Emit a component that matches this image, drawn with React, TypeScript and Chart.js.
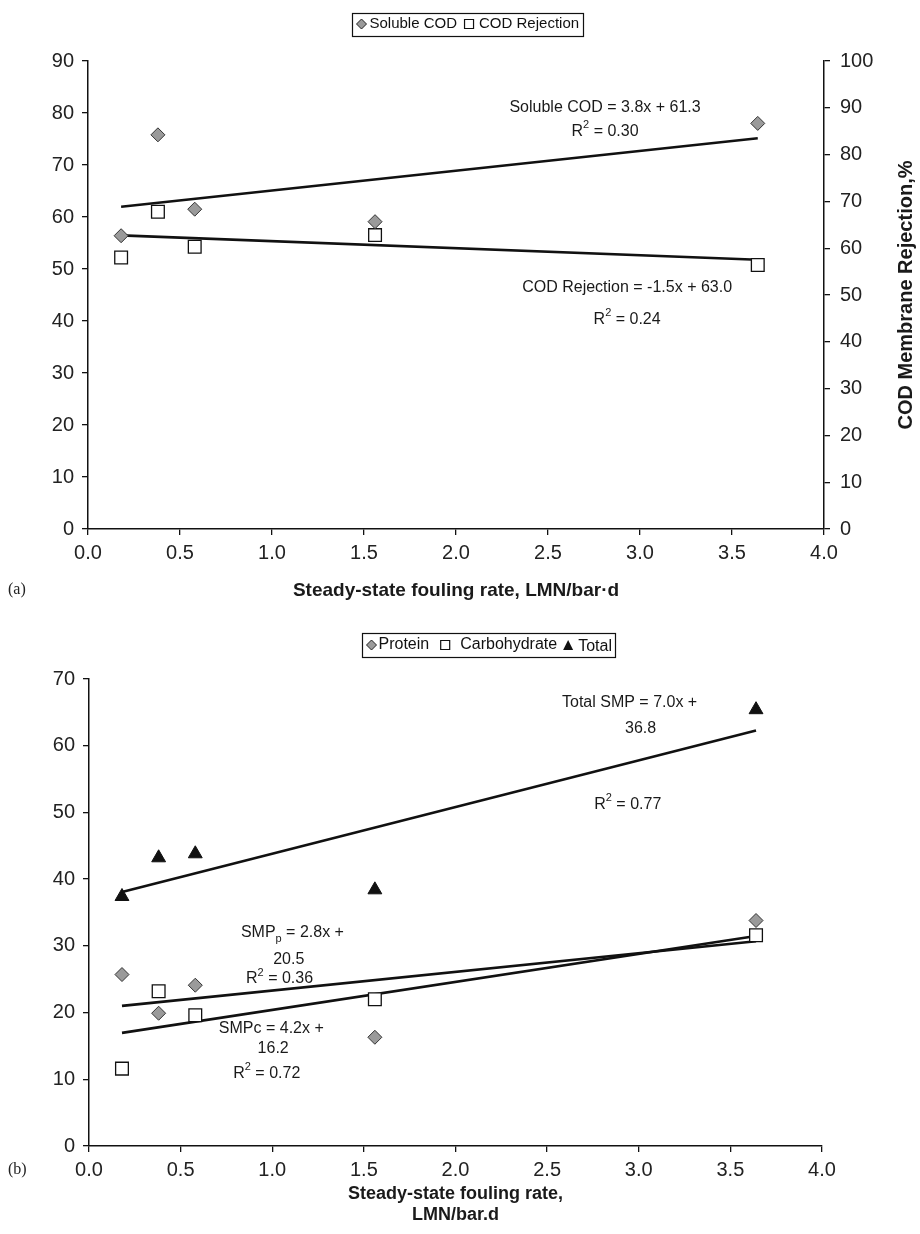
import React, { useEffect, useRef } from "react";
import { Chart, registerables } from "chart.js";

Chart.register(...registerables);

// ---------- data ----------
const foulingRate = [0.18, 0.38, 0.58, 1.56, 3.64];

// panel (a)
const solubleCOD = [56.4, 75.8, 61.5, 59.1, 78.0];
const codRejection = [58.0, 67.8, 60.3, 62.8, 56.4];
const solubleTrend = [3.8, 61.3]; // slope, intercept
const rejectionTrend = [-1.5, 63.0];

// panel (b)
const protein = [25.7, 19.9, 24.1, 16.3, 33.8];
const carbohydrate = [11.6, 23.2, 19.6, 22.0, 31.6];
const totalSMP = [37.4, 43.2, 43.8, 38.4, 65.4];
const proteinTrend = [2.8, 20.5];
const carbTrend = [4.2, 16.2];
const totalTrend = [7.0, 36.8];

const xTickLabels = ["0.0", "0.5", "1.0", "1.5", "2.0", "2.5", "3.0", "3.5", "4.0"];

// ---------- helpers ----------
const SANS = '"Liberation Sans", Arial, Helvetica, sans-serif';
const NARROW = '"Liberation Sans Narrow", "Liberation Sans", Arial, sans-serif';

const pts = (xs: number[], ys: number[]) => xs.map((x, i) => ({ x, y: ys[i] }));
const trendPts = (coef: number[]) => {
  const x0 = Math.min(...foulingRate);
  const x1 = Math.max(...foulingRate);
  return [
    { x: x0, y: coef[0] * x0 + coef[1] },
    { x: x1, y: coef[0] * x1 + coef[1] },
  ];
};

type Part = { t: string; k?: "sub" | "sup" };
type Note = { parts: Part[]; x: number; y: number };

function drawRich(ctx: CanvasRenderingContext2D, parts: Part[], cx: number, cy: number, size: number) {
  const base = `${size}px ${NARROW}`;
  const small = `${Math.round(size * 0.7)}px ${NARROW}`;
  let w = 0;
  for (const p of parts) {
    ctx.font = p.k ? small : base;
    w += ctx.measureText(p.t).width;
  }
  let x = cx - w / 2;
  ctx.textAlign = "left";
  ctx.textBaseline = "middle";
  for (const p of parts) {
    ctx.font = p.k ? small : base;
    const dy = p.k === "sup" ? -size * 0.4 : p.k === "sub" ? size * 0.4 : 0;
    ctx.fillText(p.t, x, cy + dy);
    x += ctx.measureText(p.t).width;
  }
}

const notesPlugin = (notes: Note[], size: number) => ({
  id: "notes",
  afterDatasetsDraw(chart: any) {
    const ctx = chart.ctx as CanvasRenderingContext2D;
    const xs = chart.scales.x;
    const ys = chart.scales.y;
    ctx.save();
    ctx.fillStyle = "#1a1a1a";
    for (const n of notes) {
      drawRich(ctx, n.parts, xs.getPixelForValue(n.x), ys.getPixelForValue(n.y), size);
    }
    ctx.restore();
  },
});

type Marker = "diamond" | "square" | "triangle";
type LegItem = { label: string; marker: Marker; gapAfterMarker: number; gapAfterText: number; dy?: number };

function drawMarker(ctx: CanvasRenderingContext2D, m: Marker, x: number, y: number, s: number) {
  ctx.beginPath();
  if (m === "diamond") {
    ctx.moveTo(x, y - s / 2);
    ctx.lineTo(x + s / 2, y);
    ctx.lineTo(x, y + s / 2);
    ctx.lineTo(x - s / 2, y);
    ctx.closePath();
    ctx.fillStyle = "#9a9a9a";
    ctx.fill();
    ctx.strokeStyle = "#222";
    ctx.lineWidth = 1;
    ctx.stroke();
  } else if (m === "square") {
    ctx.rect(x - s / 2 + 0.5, y - s / 2 + 0.5, s - 1, s - 1);
    ctx.fillStyle = "#fff";
    ctx.fill();
    ctx.strokeStyle = "#111";
    ctx.lineWidth = 1.2;
    ctx.stroke();
  } else {
    ctx.moveTo(x, y - s / 2);
    ctx.lineTo(x + s / 2, y + s / 2);
    ctx.lineTo(x - s / 2, y + s / 2);
    ctx.closePath();
    ctx.fillStyle = "#111";
    ctx.fill();
  }
}

const boxLegendPlugin = (items: LegItem[], cx: number, cy: number, size: number) => ({
  id: "boxLegend",
  afterDraw(chart: any) {
    const ctx = chart.ctx as CanvasRenderingContext2D;
    ctx.save();
    ctx.font = `${size}px ${SANS}`;
    const ms = 10;
    const pad = 4;
    const widths = items.map(
      (it, i) => ms + it.gapAfterMarker + ctx.measureText(it.label).width + (i < items.length - 1 ? it.gapAfterText : 0)
    );
    const total = widths.reduce((a, b) => a + b, 0) + pad * 2;
    const h = size + 8;
    const left = Math.round(cx - total / 2) + 0.5;
    const top = Math.round(cy - h / 2) + 0.5;
    ctx.strokeStyle = "#111";
    ctx.lineWidth = 1.2;
    ctx.strokeRect(left, top, Math.round(total), h);
    let x = left + pad;
    items.forEach((it) => {
      drawMarker(ctx, it.marker, x + ms / 2, cy, ms);
      x += ms + it.gapAfterMarker;
      ctx.fillStyle = "#111";
      ctx.font = `${size}px ${SANS}`;
      ctx.textAlign = "left";
      ctx.textBaseline = "middle";
      ctx.fillText(it.label, x, cy + (it.dy || 0));
      x += ctx.measureText(it.label).width + it.gapAfterText;
    });
    ctx.restore();
  },
});

const rightTitlePlugin = (text: string, x: number, size: number) => ({
  id: "rightTitle",
  afterDraw(chart: any) {
    const ctx = chart.ctx as CanvasRenderingContext2D;
    const area = chart.chartArea;
    ctx.save();
    ctx.translate(x, (area.top + area.bottom) / 2);
    ctx.rotate(-Math.PI / 2);
    ctx.font = `bold ${size}px ${SANS}`;
    ctx.fillStyle = "#1a1a1a";
    ctx.textAlign = "center";
    ctx.textBaseline = "middle";
    ctx.fillText(text, 0, 0);
    ctx.restore();
  },
});

const tickFont = { family: SANS, size: 20 };
const axisCommon = (extra: any) => ({
  grid: { drawOnChartArea: false, drawTicks: true, tickLength: 6, color: "#111", lineWidth: 1.3 },
  border: { display: true, color: "#111", width: 1.5 },
  ...extra,
});

// ---------- chart A ----------
function ChartA() {
  const ref = useRef<HTMLCanvasElement | null>(null);
  useEffect(() => {
    if (!ref.current) return;
    const notesA: Note[] = [
      { parts: [{ t: "Soluble COD = 3.8x + 61.3" }], x: 2.81, y: 81.1 },
      { parts: [{ t: "R" }, { t: "2", k: "sup" }, { t: " = 0.30" }], x: 2.81, y: 76.5 },
      { parts: [{ t: "COD Rejection = -1.5x + 63.0" }], x: 2.93, y: 46.5 },
      { parts: [{ t: "R" }, { t: "2", k: "sup" }, { t: " = 0.24" }], x: 2.93, y: 40.3 },
    ];
    const chart = new Chart(ref.current, {
      type: "scatter",
      data: {
        datasets: [
          {
            label: "Soluble COD",
            data: pts(foulingRate, solubleCOD),
            yAxisID: "y",
            pointStyle: "rectRot",
            pointRadius: 7,
            backgroundColor: "#9a9a9a",
            borderColor: "#333",
            borderWidth: 1,
            order: 0,
          },
          {
            label: "COD Rejection",
            data: pts(foulingRate, codRejection),
            yAxisID: "y1",
            pointStyle: "rect",
            pointRadius: 9,
            backgroundColor: "#fff",
            borderColor: "#111",
            borderWidth: 1.3,
            order: 0,
          },
          {
            label: "Soluble COD trend",
            data: trendPts(solubleTrend),
            yAxisID: "y",
            showLine: true,
            pointRadius: 0,
            borderColor: "#111",
            borderWidth: 2.6,
            order: 1,
          },
          {
            label: "COD Rejection trend",
            data: trendPts(rejectionTrend),
            yAxisID: "y1",
            showLine: true,
            pointRadius: 0,
            borderColor: "#111",
            borderWidth: 2.6,
            order: 1,
          },
        ],
      },
      options: {
        responsive: false,
        animation: false,
        events: [],
        layout: { padding: { top: 61, left: 0, right: 0, bottom: 0 }, autoPadding: false },
        plugins: { legend: { display: false }, tooltip: { enabled: false } },
        scales: {
          x: axisCommon({
            type: "linear",
            min: 0,
            max: 4,
            ticks: {
              stepSize: 0.5,
              autoSkip: false,
              maxRotation: 0,
              padding: 6,
              color: "#222",
              font: tickFont,
              callback: (_v: any, i: number) => xTickLabels[i],
            },
            title: {
              display: true,
              text: "Steady-state fouling rate, LMN/bar·d",
              color: "#1a1a1a",
              font: { family: SANS, size: 19, weight: "bold" },
              padding: { top: 0, bottom: 8 },
            },
            afterFit: (s: any) => {
              s.height = 81;
            },
          }),
          y: axisCommon({
            position: "left",
            min: 0,
            max: 90,
            ticks: { stepSize: 10, padding: 8, color: "#222", font: tickFont },
            afterFit: (s: any) => {
              s.width = 88;
            },
          }),
          y1: axisCommon({
            position: "right",
            min: 0,
            max: 100,
            ticks: { stepSize: 10, padding: 10, color: "#222", font: tickFont },
            afterFit: (s: any) => {
              s.width = 96;
            },
          }),
        },
      } as any,
      plugins: [
        notesPlugin(notesA, 16),
        boxLegendPlugin(
          [
            { label: "Soluble COD", marker: "diamond", gapAfterMarker: 3, gapAfterText: 7 },
            { label: "COD Rejection", marker: "square", gapAfterMarker: 5, gapAfterText: 0 },
          ],
          467,
          24,
          15
        ),
        rightTitlePlugin("COD Membrane Rejection,%", 906, 20),
      ],
    });
    return () => chart.destroy();
  }, []);
  return <canvas ref={ref} width={920} height={610} style={{ display: "block" }} />;
}

// ---------- chart B ----------
function ChartB() {
  const ref = useRef<HTMLCanvasElement | null>(null);
  useEffect(() => {
    if (!ref.current) return;
    const notesB: Note[] = [
      { parts: [{ t: "Total SMP = 7.0x +" }], x: 2.95, y: 66.4 },
      { parts: [{ t: "36.8" }], x: 3.01, y: 62.6 },
      { parts: [{ t: "R" }, { t: "2", k: "sup" }, { t: " = 0.77" }], x: 2.94, y: 51.2 },
      { parts: [{ t: "SMP" }, { t: "p", k: "sub" }, { t: " = 2.8x +" }], x: 1.11, y: 32.05 },
      { parts: [{ t: "20.5" }], x: 1.09, y: 27.9 },
      { parts: [{ t: "R" }, { t: "2", k: "sup" }, { t: " = 0.36" }], x: 1.04, y: 25.05 },
      { parts: [{ t: "SMPc = 4.2x +" }], x: 0.995, y: 17.55 },
      { parts: [{ t: "16.2" }], x: 1.005, y: 14.55 },
      { parts: [{ t: "R" }, { t: "2", k: "sup" }, { t: " = 0.72" }], x: 0.97, y: 10.9 },
    ];
    const line = (label: string, coef: number[]) => ({
      label,
      data: trendPts(coef),
      showLine: true,
      pointRadius: 0,
      borderColor: "#111",
      borderWidth: 2.6,
      order: 1,
    });
    const chart = new Chart(ref.current, {
      type: "scatter",
      data: {
        datasets: [
          {
            label: "Protein",
            data: pts(foulingRate, protein),
            pointStyle: "rectRot",
            pointRadius: 7,
            backgroundColor: "#9a9a9a",
            borderColor: "#333",
            borderWidth: 1,
            order: 0,
          },
          {
            label: "Carbohydrate",
            data: pts(foulingRate, carbohydrate),
            pointStyle: "rect",
            pointRadius: 9,
            backgroundColor: "#fff",
            borderColor: "#111",
            borderWidth: 1.3,
            order: 0,
          },
          {
            label: "Total",
            data: pts(foulingRate, totalSMP),
            pointStyle: "triangle",
            pointRadius: 8,
            backgroundColor: "#111",
            borderColor: "#111",
            borderWidth: 1,
            order: 0,
          },
          line("Total trend", totalTrend),
          line("Protein trend", proteinTrend),
          line("Carbohydrate trend", carbTrend),
        ],
      },
      options: {
        responsive: false,
        animation: false,
        events: [],
        layout: { padding: { top: 49, left: 0, right: 98, bottom: 0 }, autoPadding: false },
        plugins: { legend: { display: false }, tooltip: { enabled: false } },
        scales: {
          x: axisCommon({
            type: "linear",
            min: 0,
            max: 4,
            ticks: {
              stepSize: 0.5,
              autoSkip: false,
              maxRotation: 0,
              padding: 6,
              color: "#222",
              font: tickFont,
              callback: (_v: any, i: number) => xTickLabels[i],
            },
            title: {
              display: true,
              text: ["Steady-state fouling rate,", "LMN/bar.d"],
              color: "#1a1a1a",
              font: { family: SANS, size: 18, weight: "bold" },
              padding: { top: 0, bottom: 8 },
            },
            afterFit: (s: any) => {
              s.height = 88;
            },
          }),
          y: axisCommon({
            position: "left",
            min: 0,
            max: 70,
            ticks: { stepSize: 10, padding: 8, color: "#222", font: tickFont },
            afterFit: (s: any) => {
              s.width = 89;
            },
          }),
        },
      } as any,
      plugins: [
        notesPlugin(notesB, 16),
        boxLegendPlugin(
          [
            { label: "Protein", marker: "diamond", gapAfterMarker: 2, gapAfterText: 11 },
            { label: "Carbohydrate", marker: "square", gapAfterMarker: 10, gapAfterText: 6 },
            { label: "Total", marker: "triangle", gapAfterMarker: 5, gapAfterText: 0, dy: 2 },
          ],
          489,
          15,
          16
        ),
      ],
    });
    return () => chart.destroy();
  }, []);
  return <canvas ref={ref} width={920} height={604} style={{ display: "block" }} />;
}

export default function App() {
  return (
    <div style={{ position: "absolute", left: 0, top: 0, width: 920, height: 1234, background: "#fff" }}>
      <div style={{ position: "absolute", left: 0, top: 0, width: 920, height: 610 }}>
        <ChartA />
      </div>
      <div style={{ position: "absolute", left: 0, top: 630, width: 920, height: 604 }}>
        <ChartB />
      </div>
      <span style={{ position: "absolute", left: 8, top: 580, fontSize: 16, fontFamily: "serif", color: "#222" }}>
        (a)
      </span>
      <span style={{ position: "absolute", left: 8, top: 1160, fontSize: 16, fontFamily: "serif", color: "#222" }}>
        (b)
      </span>
    </div>
  );
}
